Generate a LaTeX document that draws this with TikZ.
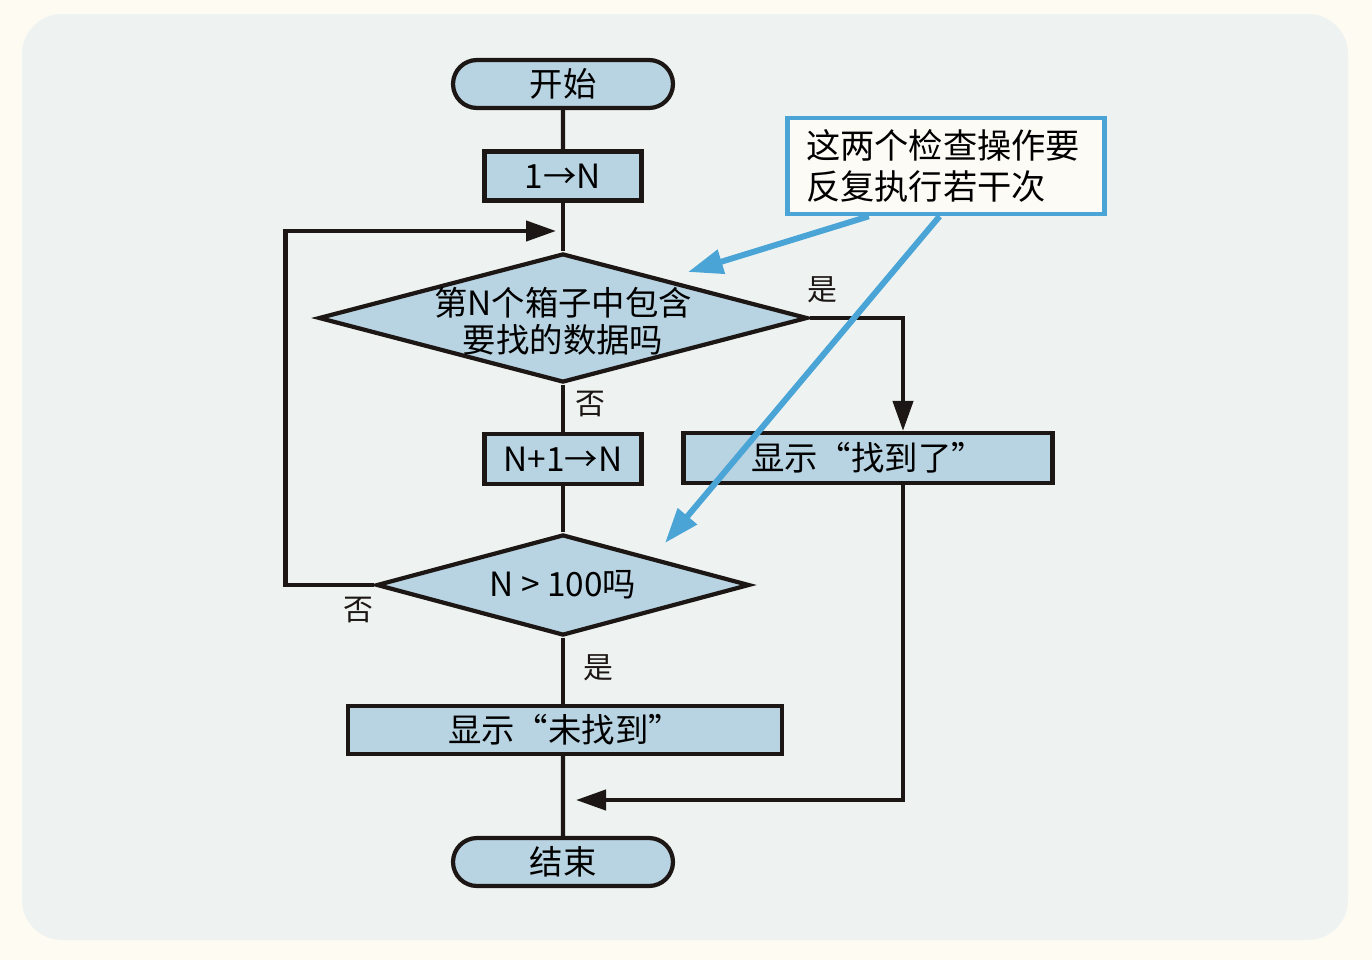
\documentclass[tikz,border=0pt]{standalone}
\usepackage{fontspec}
\setmainfont{Noto Sans CJK SC}
\usetikzlibrary{arrows.meta, positioning, shapes.geometric, shapes.misc, calc}
\definecolor{cfill}{HTML}{B8D3E1}
\definecolor{cline}{HTML}{1C1714}
\definecolor{cblue}{HTML}{4AA5D6}
\definecolor{cpanel}{HTML}{EEF3F2}
\definecolor{cpage}{HTML}{FDFBF2}
\definecolor{cnote}{HTML}{FCFBF6}
\tikzset{
  every picture/.style={line width=2.4pt},
  term/.style={rounded rectangle, draw=cline, fill=cfill, minimum width=4.4cm, minimum height=0.96cm, inner sep=0pt, font=\fontsize{19}{22}\selectfont},
  proc/.style={rectangle, draw=cline, fill=cfill, minimum height=0.98cm, inner sep=0pt, font=\fontsize{19}{22}\selectfont},
  dec/.style={diamond, draw=cline, fill=cfill, inner sep=0pt},
  dectext/.style={align=center, font=\fontsize{19}{21}\selectfont},
  flow/.style={draw=cline, -{Triangle[length=0.6cm, width=0.4cm]}},
  pointer/.style={draw=cblue, line width=3.4pt, -{Triangle[length=0.7cm, width=0.48cm]}},
  lbl/.style={font=\fontsize{17}{20}\selectfont, text=cline},
}
\begin{document}
\begin{tikzpicture}[x=0.02cm, y=-0.02cm]
  \useasboundingbox (0,0) rectangle (1372,960);
  \fill[cpage] (0,0) rectangle (1372,960);
  \fill[cpanel, rounded corners=0.8cm] (22,14) rectangle (1348,940);

  % main column
  \node[term] (start) at (563,84) {开始};
  \node[proc, minimum width=3.14cm] (init) at (563,176) {1→N};
  \node[dec, minimum width=9.78cm, minimum height=2.58cm] (d1) at (563,318) {};
  \node[dectext] (d1text) at (563,321) {第N个箱子中包含\\要找的数据吗};
  \node[proc, minimum width=3.14cm, minimum height=1.0cm] (inc) at (563,459) {N+1→N};
  \node[proc, minimum width=7.38cm, minimum height=1.0cm] (found) at (868,458) {显示“找到了”};
  \node[dec, minimum width=7.46cm, minimum height=2.02cm] (d2) at (563,585) {};
  \node[dectext] (d2text) at (d2.center) {N > 100吗};
  \node[proc, minimum width=8.68cm, minimum height=0.96cm] (notfound) at (565,730) {显示“未找到”};
  \node[term] (stop) at (563,862) {结束};

  \coordinate (loopin) at (556,231);
  \coordinate (join) at (576,800);

  \draw[cline] (start) -- (init);
  \draw[cline] (init) -- (d1);
  \draw[cline] (d1) -- (inc);
  \draw[cline] (inc) -- (d2);
  \draw[cline] (d2) -- (d2 |- notfound.north);
  \draw[cline] (notfound.south -| stop) -- (stop);
  \draw[flow] (d2.west) -- ++(-89,0) |- (loopin);
  \draw[flow] (d1.east) -| ($(found.north)+(35,0)$);
  \draw[flow] ($(found.south)+(35,0)$) |- (join);

  \node[lbl] (yes1) at (822,290) {是};
  \node[lbl] (no1) at (590,404) {否};
  \node[lbl] (no2) at (358,610) {否};
  \node[lbl] (yes2) at (598,668) {是};

  % note
  \node[draw=cblue, fill=cnote, line width=2.6pt, minimum width=6.34cm, minimum height=1.92cm,
        text width=5.6cm, align=left, inner xsep=0.37cm, font=\fontsize{19.5}{23.5}\selectfont] (note) at (946,166)
        {这两个检查操作要\\反复执行若干次};
  \coordinate (tip1) at (688,272);
  \coordinate (tip2) at (665,543);
  \draw[pointer] ($(note.south west)!0.26!(note.south east)$) -- (tip1);
  \draw[pointer] ($(note.south west)!0.48!(note.south east)$) -- (tip2);
\end{tikzpicture}
\end{document}
